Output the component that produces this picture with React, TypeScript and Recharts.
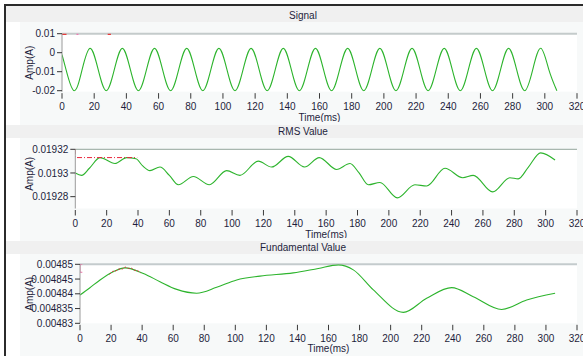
import React from 'react';
import { LineChart, Line, XAxis, YAxis, CartesianGrid, ReferenceLine } from 'recharts';

const FONT = '"Liberation Sans", Arial, sans-serif';
const TEXT = '#1e1e3c';
const GREEN = '#2db42d';

const timeTicks = [0, 20, 40, 60, 80, 100, 120, 140, 160, 180, 200, 220, 240, 260, 280, 300, 320];

const panelTitles = ['Signal', 'RMS Value', 'Fundamental Value'];
const xTitle = 'Time(ms)';
const yTitle = 'Amp(A)';

// Signal (A) vs time (ms)
const signalTimes = [0, 2.5, 7.5, 12.5, 17.5, 22.5, 27.5, 32.5, 37.5, 42.5, 47.5, 52.5, 57.5, 62.5, 67.5, 72.5, 77.5,
  82.5, 87.5, 92.5, 97.5, 102.5, 107.5, 112.5, 117.5, 122.5, 127.5, 132.5, 137.5, 142.5, 147.5, 152.5, 157.5,
  162.5, 167.5, 172.5, 177.5, 182.5, 187.5, 192.5, 197.5, 202.5, 207.5, 212.5, 217.5, 222.5, 227.5, 232.5, 237.5,
  242.5, 247.5, 252.5, 257.5, 262.5, 267.5, 272.5, 277.5, 282.5, 287.5, 292.5, 297.5, 302.5, 307.5];
const signalValues = [-0.001,
  -0.0089, -0.02, -0.0089, 0.0023,
  -0.0089, -0.02, -0.0089, 0.0023,
  -0.0089, -0.02, -0.0089, 0.0023,
  -0.0089, -0.02, -0.0089, 0.0023,
  -0.0089, -0.02, -0.0089, 0.0023,
  -0.0089, -0.02, -0.0089, 0.0023,
  -0.0089, -0.02, -0.0089, 0.0023,
  -0.0089, -0.02, -0.0089, 0.0023,
  -0.0089, -0.02, -0.0089, 0.0023,
  -0.0089, -0.02, -0.0089, 0.0023,
  -0.0089, -0.02, -0.0089, 0.0023,
  -0.0089, -0.02, -0.0089, 0.0023,
  -0.0089, -0.02, -0.0089, 0.0023,
  -0.0089, -0.02, -0.0089, 0.0023,
  -0.0089, -0.02, -0.0089, 0.0023,
  -0.0089, -0.02];
const signalMarkTimes = [0, 2.8, 5, 28.4, 30.4];
const signalMarkValues = [0.0099, 0.0099, null, 0.0099, 0.0099];
const signalPinkTimes = [9, 10.2];
const signalPinkValues = [0.0099, 0.0099];

// RMS value
const rmsTimes = [0, 4, 9, 15.8, 25.3, 32.8, 38.7, 43, 47.6, 54, 60, 65.7, 75.3, 85.5, 96.5, 105, 116.7, 125.2, 135.8,
  146.2, 155.6, 166.7, 175.2, 181, 186.9, 194.3, 205.4, 216.6, 224.1, 235.8, 247.1, 253.8, 266.2, 277.2, 282.5, 289,
  296.8, 306];
const rmsValues = [0.0193, 0.019298, 0.019304, 0.019313, 0.019308, 0.019313, 0.019312, 0.019306, 0.019302, 0.019305,
  0.019298, 0.01929, 0.019297, 0.01929, 0.019302, 0.019298, 0.01931, 0.019305, 0.019314,
  0.019305, 0.019313, 0.019303, 0.019308, 0.0193, 0.01929, 0.019292, 0.019279, 0.01929, 0.019289, 0.019304, 0.019296,
  0.019298, 0.019284, 0.019296, 0.019295, 0.019305, 0.019317, 0.019311];
const rmsMarkTimes = [0, 0, 39.5];
const rmsMarkValues = [0.01932, 0.019313, 0.019313];

// Fundamental value
const fundTimes = [0, 6, 12.9, 21.4, 29, 40.8, 51.5, 62.3, 75.1, 88, 100.9, 115.9, 137.3, 153.4, 166.3, 176, 188.9,
  208.2, 223.2, 239.3, 253.2, 271.5, 287.6, 305.9];
const fundValues = [0.0048396, 0.0048419, 0.0048447, 0.0048475, 0.0048488, 0.0048469, 0.0048441, 0.0048415, 0.0048402,
  0.0048422, 0.0048447, 0.004846, 0.0048471, 0.0048486, 0.0048498, 0.0048481, 0.0048413,
  0.0048337, 0.0048385, 0.0048421, 0.004839, 0.0048347, 0.0048379, 0.0048402];
const fundNoiseTimes = [19, 21, 23, 25, 27, 29, 31, 33, 35, 37, 39];
const fundNoiseValues = [0.0048466, 0.0048476, 0.0048477, 0.0048484, 0.0048483, 0.0048491, 0.0048486, 0.0048487,
  0.004848, 0.0048479, 0.0048471];
const fundMarkTimes = [1.5, 0, 0, 1.5];
const fundMarkValues = [0.00485, 0.00485, 0.0048473, 0.0048473];

const signalTicks = [-0.02, -0.01, 0, 0.01];
const rmsTicks = [0.01928, 0.0193, 0.01932];
const fundTicks = [0.00483, 0.004835, 0.00484, 0.004845, 0.00485];

const rows = (ts: number[], vs: (number | null)[]) => ts.map((t, i) => ({ t, v: vs[i] }));

const XTick = (props: any) => {
  const { x, y, payload } = props;
  return (
    <g>
      <line x1={x} x2={x} y1={y + 1.5} y2={y + 7} stroke="#3a3a3a" strokeWidth={1} />
      <text x={x} y={y + 18.5} textAnchor="middle" fontSize={10} fontFamily={FONT} fill={TEXT}>
        {payload.value}
      </text>
    </g>
  );
};

type PanelProps = {
  top: number;
  height: number;
  marginTop: number;
  axisWidth: number;
  xAxisHeight: number;
  domain: [number, number];
  yTicks: number[];
  labelOffset: number;
  yLabelDx: number;
  yLabelDy: number;
  topColor: string;
  topWidth: number;
  children?: React.ReactNode;
};

function Panel(p: PanelProps) {
  return (
    <div style={{ position: 'absolute', left: 0, top: p.top, width: 583, height: p.height }}>
      <LineChart width={583} height={p.height} margin={{ top: p.marginTop, right: 6, bottom: 0, left: 0 }}>
        <CartesianGrid fill="#ffffff" stroke="none" horizontal={false} vertical={false} />
        <XAxis
          type="number"
          dataKey="t"
          domain={[0, 320]}
          ticks={timeTicks}
          interval={0}
          allowDataOverflow
          height={p.xAxisHeight}
          axisLine={false}
          tickLine={false}
          tickSize={0}
          tickMargin={0}
          tick={<XTick />}
          label={{ value: xTitle, position: 'insideBottom', offset: p.labelOffset, fill: TEXT, fontSize: 10, fontFamily: FONT }}
        />
        <YAxis
          type="number"
          domain={p.domain}
          ticks={p.yTicks}
          interval={0}
          allowDataOverflow
          width={p.axisWidth}
          axisLine={{ stroke: '#9a9a9a' }}
          tickLine={{ stroke: '#333333' }}
          tickSize={5}
          tickMargin={2}
          tick={{ fill: TEXT, fontSize: 10, fontFamily: FONT }}
          label={{ value: yTitle, angle: -90, position: 'center', dx: p.yLabelDx, dy: p.yLabelDy, fill: TEXT, fontSize: 10, fontFamily: FONT }}
        />
        <ReferenceLine y={p.domain[1]} stroke={p.topColor} strokeWidth={p.topWidth} ifOverflow="visible" />
        {p.children}
      </LineChart>
    </div>
  );
}

export default function App() {
  return (
    <div style={{ position: 'absolute', left: 0, top: 0, width: 583, height: 356, overflow: 'hidden', background: '#fff' }}>
      <svg width={583} height={356} style={{ position: 'absolute', left: 0, top: 0 }}>
        <rect x={0} y={0} width={583} height={356} fill="#ffffff" />
        <rect x={6} y={6} width={577} height={16} fill="#f0f0f0" />
        <rect x={20} y={22} width={563} height={103} fill="#f7f9f9" />
        <rect x={6} y={125} width={577} height={13} fill="#f0f0f0" />
        <rect x={20} y={138} width={563} height={103} fill="#f7f9f9" />
        <rect x={6} y={241} width={577} height={13} fill="#f0f0f0" />
        <rect x={20} y={254} width={563} height={102} fill="#f7f9f9" />
        <rect x={4} y={4} width={579} height={2} fill="#2b2b2b" />
        <rect x={4} y={4} width={2} height={352} fill="#2b2b2b" />
        <text x={303} y={18.5} textAnchor="middle" fontSize={10} fontFamily={FONT} fill={TEXT}>{panelTitles[0]}</text>
        <text x={303} y={135} textAnchor="middle" fontSize={10} fontFamily={FONT} fill={TEXT}>{panelTitles[1]}</text>
        <text x={303} y={251} textAnchor="middle" fontSize={10} fontFamily={FONT} fill={TEXT}>{panelTitles[2]}</text>
      </svg>

      <Panel top={22} height={100} marginTop={11.7} axisWidth={62} xAxisHeight={30.35} domain={[-0.0205, 0.01]}
        yTicks={signalTicks} labelOffset={1.4} yLabelDx={-1.3} yLabelDy={0} topColor="#c4cbcb" topWidth={2}>
        <Line data={rows(signalTimes, signalValues)} dataKey="v" type="natural" stroke={GREEN} strokeWidth={1.1} dot={false} isAnimationActive={false} />
        <Line data={rows(signalMarkTimes, signalMarkValues)} dataKey="v" type="linear" stroke="#e83a3a" strokeWidth={2} dot={false} isAnimationActive={false} />
        <Line data={rows(signalPinkTimes, signalPinkValues)} dataKey="v" type="linear" stroke="#f07ab4" strokeWidth={2} dot={false} isAnimationActive={false} />
      </Panel>

      <Panel top={138} height={100} marginTop={11.3} axisWidth={75.3} xAxisHeight={29.5} domain={[0.01927, 0.01932]}
        yTicks={rmsTicks} labelOffset={0.5} yLabelDx={-8} yLabelDy={-5} topColor="#93a59c" topWidth={1}>
        <Line data={rows(rmsTimes, rmsValues)} dataKey="v" type="monotone" stroke={GREEN} strokeWidth={1.1} dot={false} isAnimationActive={false} />
        <Line data={rows(rmsMarkTimes, rmsMarkValues)} dataKey="v" type="linear" stroke="#e8283c" strokeWidth={1} strokeDasharray="5 2 1 2" dot={false} isAnimationActive={false} />
      </Panel>

      <Panel top={254} height={102} marginTop={10.3} axisWidth={80} xAxisHeight={32.7} domain={[0.00483, 0.00485]}
        yTicks={fundTicks} labelOffset={3.7} yLabelDx={-10.3} yLabelDy={0} topColor="#c4cbcd" topWidth={2}>
        <Line data={rows(fundTimes, fundValues)} dataKey="v" type="monotone" stroke={GREEN} strokeWidth={1.1} dot={false} isAnimationActive={false} />
        <Line data={rows(fundNoiseTimes, fundNoiseValues)} dataKey="v" type="linear" stroke="#e03040" strokeWidth={1} strokeDasharray="2 1.5" dot={false} isAnimationActive={false} />
        <Line data={rows(fundMarkTimes, fundMarkValues)} dataKey="v" type="linear" stroke="#ea6fa4" strokeWidth={1} dot={false} isAnimationActive={false} />
      </Panel>
    </div>
  );
}
